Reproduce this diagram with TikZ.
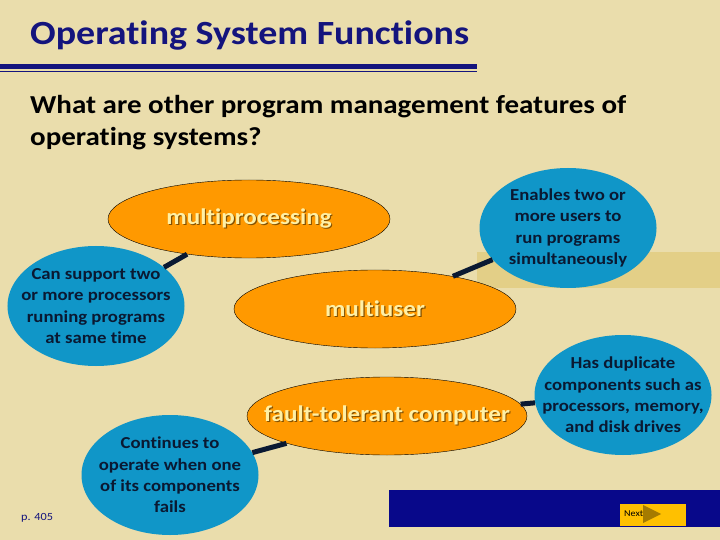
\documentclass[tikz,border=0pt]{standalone}
\usepackage{fontspec}
\setmainfont{Carlito}[FakeStretch=1.12,Ligatures=NoCommon]
\usetikzlibrary{shapes.geometric}

\definecolor{paper}{RGB}{234,221,172}
\definecolor{band}{RGB}{227,207,135}
\definecolor{navy}{RGB}{20,20,125}
\definecolor{barblue}{RGB}{8,8,138}
\definecolor{topicfill}{RGB}{255,153,0}
\definecolor{notefill}{RGB}{16,150,200}
\definecolor{notetext}{RGB}{10,25,50}
\definecolor{topictext}{RGB}{255,240,165}
\definecolor{topicshade}{RGB}{130,80,0}
\definecolor{gold}{RGB}{255,192,0}
\definecolor{nextarrow}{RGB}{150,112,0}

\newcommand{\shadowed}[1]{\makebox[0pt]{\makebox[0pt][l]{\kern1.2pt\raisebox{-1.2pt}{\color{topicshade}#1}}#1}}

\begin{document}
\begin{tikzpicture}[x=1bp,y=-1bp,
    topic/.style={ellipse,draw=black,thin,fill=topicfill,minimum width=282bp,minimum height=78bp,inner sep=0pt,text=topictext,font=\fontsize{22.5}{26}\selectfont\bfseries},
    note/.style={ellipse,fill=notefill,minimum width=177bp,minimum height=120bp,inner sep=0pt},
    notelabel/.style={inner sep=0pt,align=center,text=notetext,font=\fontsize{16.8}{21.5}\selectfont\bfseries},
    question/.style={anchor=base west,inner sep=0pt,font=\fontsize{26}{30}\selectfont\bfseries},
    link/.style={line width=5bp,draw=notetext}]
        \useasboundingbox (0,0) rectangle (720,540);
        \fill[paper] (0,0) rectangle (720,540);
        \fill[band] (477,252) rectangle (720,288);

        \node[anchor=base west,inner sep=0pt,text=navy,font=\fontsize{34}{38}\selectfont\bfseries] (title) at (30,45) {Operating System Functions};
        \fill[navy] (0,64.5) rectangle (477,69.5);
        \fill[navy] (0,71) rectangle (477,72.5);

        \node[question] (question) at (30,114) {What are other program management features of};
        \node[question] (question2) at (30,146) {operating systems?};

        \node[topic] (mp) at (249,219) {\shadowed{multiprocessing}};
        \node[topic] (mu) at (375,309) {\shadowed{multiuser}};
        \node[topic,minimum width=280bp] (ft) at (387,416) {\shadowed{fault-tolerant computer}};

        \node[note,label={[notelabel]center:Can support two\\or more processors\\running programs\\at same time}] (mpnote) at (96,306) {};
        \node[note,label={[notelabel]center:Enables two or\\more users to\\run programs\\simultaneously}] (munote) at (568,228) {};
        \node[note,label={[notelabel]center:Has duplicate\\components such as\\processors, memory,\\and disk drives}] (ftnote) at (623,395) {};
        \node[note,label={[notelabel]center:Continues to\\operate when one\\of its components\\fails}] (ftnote2) at (170,475) {};

        \draw[link] (mpnote) -- (mp);
        \draw[link] (mu) -- (munote);
        \draw[link] (ft) -- (ftnote);
        \draw[link] (ftnote2) -- (ft);

        \node[anchor=base west,inner sep=0pt,text=navy,font=\fontsize{11}{12}\selectfont] (page) at (21,520) {p. 405};

        \fill[barblue] (389,490) rectangle (720,527);
        \node[fill=gold,minimum width=66bp,minimum height=22bp,inner sep=0pt] (next) at (653,515) {};
        \node[anchor=west,inner sep=0pt,font=\fontsize{9}{10}\selectfont] (nexttext) at (624,514) {Next};
        \fill[nextarrow,opacity=0.85] (643,505) -- (661,514) -- (643,523) -- cycle;
    \end{tikzpicture}
\end{document}
